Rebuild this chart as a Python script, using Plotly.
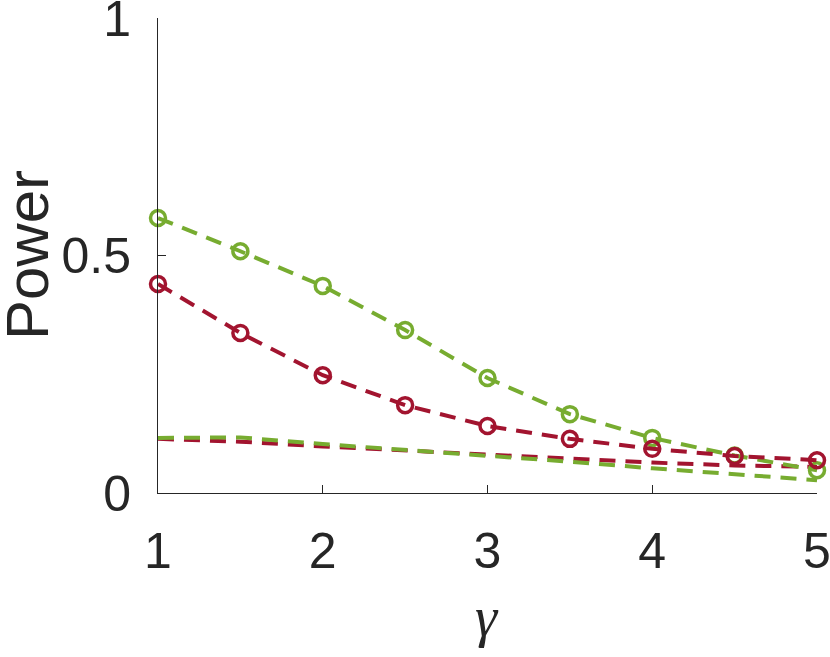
import plotly.graph_objects as go

gamma = [1, 1.5, 2, 2.5, 3, 3.5, 4, 4.5, 5]
green_marked = [0.579, 0.509, 0.436, 0.343, 0.242, 0.166, 0.116, 0.079, 0.048]
red_marked = [0.440, 0.337, 0.248, 0.185, 0.141, 0.114, 0.093, 0.078, 0.069]
green_plain = [0.116, 0.117, 0.103, 0.091, 0.078, 0.066, 0.052, 0.040, 0.027]
red_plain = [0.114, 0.108, 0.098, 0.089, 0.080, 0.071, 0.064, 0.058, 0.055]

GREEN = "#77AC30"
RED = "#A2142F"
DASH = "16px,10px"
LW = 4

fig = go.Figure()
fig.add_trace(go.Scatter(x=gamma, y=red_plain, mode="lines",
                         line=dict(color=RED, width=LW, dash=DASH), cliponaxis=False))
fig.add_trace(go.Scatter(x=gamma, y=green_plain, mode="lines",
                         line=dict(color=GREEN, width=LW, dash=DASH), cliponaxis=False))
fig.add_trace(go.Scatter(x=gamma, y=green_marked, mode="lines+markers",
                         line=dict(color=GREEN, width=LW, dash=DASH),
                         marker=dict(symbol="circle-open", size=15, color=GREEN,
                                     line=dict(width=3.5, color=GREEN)), cliponaxis=False))
fig.add_trace(go.Scatter(x=gamma, y=red_marked, mode="lines+markers",
                         line=dict(color=RED, width=LW, dash=DASH),
                         marker=dict(symbol="circle-open", size=15, color=RED,
                                     line=dict(width=3.5, color=RED)), cliponaxis=False))

fig.update_layout(
    width=830, height=657,
    margin=dict(l=158, r=13, t=18, b=164, autoexpand=False),
    paper_bgcolor="white", plot_bgcolor="white",
    showlegend=False,
    font=dict(family="Liberation Sans, Arial, sans-serif", color="#262626"),
    xaxis=dict(range=[1, 5], tickvals=[1, 2, 3, 4, 5], ticktext=["1", "2", "3", "4", "5"],
               showgrid=False, zeroline=False, showline=True, linecolor="#262626", linewidth=1,
               ticks="inside", ticklen=8, tickcolor="#262626", tickfont=dict(size=50),
               ticklabelstandoff=14, automargin=False, ticklabeloverflow="allow"),
    yaxis=dict(range=[0, 1], tickvals=[0, 0.5, 1], ticktext=["0", "0.5", "1"],
               showgrid=False, zeroline=False, showline=True, linecolor="#262626", linewidth=1,
               ticks="inside", ticklen=8, tickcolor="#262626", tickfont=dict(size=50),
               ticklabelstandoff=16, automargin=False, ticklabeloverflow="allow"),
    annotations=[
        dict(text="Power", xref="paper", yref="paper", x=-0.198, y=0.5, showarrow=False,
             textangle=-90, font=dict(size=60, color="#262626"), xanchor="center", yanchor="middle"),
        dict(text="<i>γ</i>", xref="paper", yref="paper", x=0.499, y=-0.261, showarrow=False,
             font=dict(size=56, family="Liberation Serif, Times New Roman, serif", color="#262626"),
             xanchor="center", yanchor="middle"),
    ],
)

fig.write_html("out.html", config={"displayModeBar": False},
               post_script="document.body.style.margin='0';document.body.style.overflow='hidden';")
